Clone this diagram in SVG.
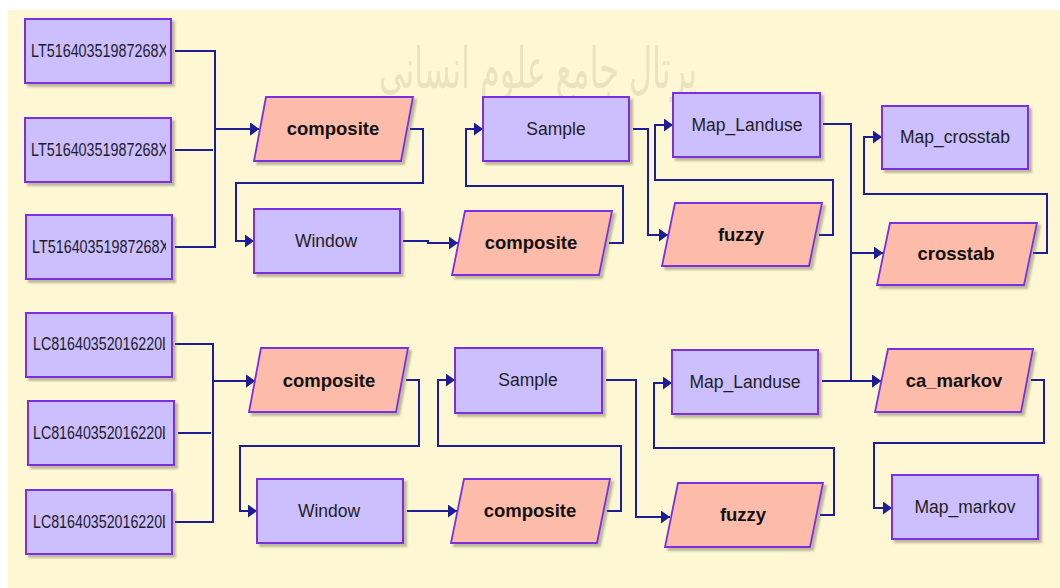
<svg xmlns="http://www.w3.org/2000/svg" width="1060" height="588" viewBox="0 0 1060 588">
  <defs>
    <style>
      .bg { fill: #fdf8d3; }
      .box { fill: #ccbffd; stroke: #7b2fe3; stroke-width: 2; filter: url(#sh); }
      .par { fill: #fdbba9; stroke: #7b2fe3; stroke-width: 1.8; filter: url(#sh); }
      .lbl { font-family: "Liberation Sans", Arial, sans-serif; font-size: 17.5px; fill: #1e1e24; text-anchor: middle; }
      .blbl { font-family: "Liberation Sans", Arial, sans-serif; font-size: 18.5px; font-weight: bold; fill: #111111; text-anchor: middle; }
      .id { font-family: "Liberation Sans", Arial, sans-serif; font-size: 17.5px; fill: #1c1c30; }
      .wm { font-family: "DejaVu Sans", "Noto Sans", sans-serif; font-size: 56px; fill: #d9d2ae; opacity: 0.55; text-anchor: middle; }
      .con path { fill: none; stroke: #1d1d96; stroke-width: 2; }
      .arr { marker-end: url(#ah); }
    </style>
    <filter id="sh" x="-10%" y="-10%" width="125%" height="130%">
      <feDropShadow dx="3" dy="3" stdDeviation="1.2" flood-color="#6f6a55" flood-opacity="0.45"/>
    </filter>
    <marker id="ah" markerUnits="userSpaceOnUse" markerWidth="10" markerHeight="14" refX="9" refY="6.5" orient="auto">
      <path d="M0,0 L9,6.5 L0,13 Z" fill="#1d1d96"/>
    </marker>
    <clipPath id="idclip">
      <rect x="0" y="0" width="166" height="300"/>
    </clipPath>
    <clipPath id="lcclip">
      <rect x="0" y="300" width="165" height="288"/>
    </clipPath>
  </defs>

  <rect x="0" y="0" width="1060" height="588" fill="#ffffff"/>
  <rect class="bg" x="8" y="10" width="1052" height="578"/>

  <text class="wm" x="538" y="88" textLength="318" lengthAdjust="spacingAndGlyphs">پرتال جامع علوم انسانی</text>

  <g class="con">
    <path class="arr" d="M175,51 H215 V129 H259"/>
    <path d="M175,150 H213"/>
    <path class="arr" d="M175,247 H215 V129 H259"/>
    <path class="arr" d="M410,129 H423 V183 H236 V241 H254"/>
    <path class="arr" d="M403,241 H428 V243 H458"/>
    <path class="arr" d="M609,243 H623 V186 H466 V129 H483"/>
    <path class="arr" d="M633,129 H648 V235 H668"/>
    <path class="arr" d="M819,235 H833 V180 H655 V125 H673"/>
    <path class="arr" d="M823,124 H851 V253 H883"/>
    <path class="arr" d="M823,124 H851 V381 H881"/>
    <path class="arr" d="M1033,253 H1047 V194 H864 V137 H882"/>

    <path class="arr" d="M175,344 H213 V381 H255"/>
    <path d="M178,433 H211"/>
    <path class="arr" d="M175,522 H213 V381 H255"/>
    <path class="arr" d="M406,380 H419 V446 H240 V511 H257"/>
    <path class="arr" d="M407,511 H457"/>
    <path class="arr" d="M607,511 H621 V446 H438 V380 H455"/>
    <path class="arr" d="M606,380 H636 V517 H670"/>
    <path class="arr" d="M820,515 H834 V448 H654 V383 H672"/>
    <path class="arr" d="M822,381 H881"/>
    <path class="arr" d="M1031,380 H1044 V443 H874 V508 H892"/>
  </g>

  <g id="lt1"><rect class="box" x="25" y="19" width="146" height="64"/><text class="id" x="31" y="57" textLength="137" lengthAdjust="spacingAndGlyphs" clip-path="url(#idclip)">LT51640351987268X</text></g>
  <g id="lt2"><rect class="box" x="25" y="118" width="146" height="64"/><text class="id" x="31" y="156" textLength="137" lengthAdjust="spacingAndGlyphs" clip-path="url(#idclip)">LT51640351987268X</text></g>
  <g id="lt3"><rect class="box" x="26" y="215" width="146" height="64"/><text class="id" x="32" y="253" textLength="137" lengthAdjust="spacingAndGlyphs" clip-path="url(#idclip)">LT51640351987268X</text></g>

  <g id="lc1"><rect class="box" x="26" y="313" width="146" height="64"/><text class="id" x="33" y="350" textLength="137" lengthAdjust="spacingAndGlyphs" clip-path="url(#lcclip)">LC81640352016220L</text></g>
  <g id="lc2"><rect class="box" x="28" y="401" width="146" height="64"/><text class="id" x="33" y="439" textLength="137" lengthAdjust="spacingAndGlyphs" clip-path="url(#lcclip)">LC81640352016220L</text></g>
  <g id="lc3"><rect class="box" x="26" y="490" width="146" height="64"/><text class="id" x="33" y="528" textLength="137" lengthAdjust="spacingAndGlyphs" clip-path="url(#lcclip)">LC81640352016220L</text></g>

  <g id="composite1"><polygon class="par" points="266,97 413,97 401,161 254,161"/><text class="blbl" x="333" y="135">composite</text></g>
  <g id="window1"><rect class="box" x="254" y="209" width="146" height="64"/><text class="lbl" x="326" y="247">Window</text></g>
  <g id="composite2"><polygon class="par" points="465,211 612,211 599,275 452,275"/><text class="blbl" x="531" y="249">composite</text></g>
  <g id="sample1"><rect class="box" x="483" y="97" width="146" height="64"/><text class="lbl" x="556" y="135">Sample</text></g>
  <g id="maplanduse1"><rect class="box" x="673" y="93" width="147" height="64"/><text class="lbl" x="747" y="131">Map_Landuse</text></g>
  <g id="fuzzy1"><polygon class="par" points="675,203 822,203 809,266 662,266"/><text class="blbl" x="741" y="241">fuzzy</text></g>
  <g id="mapcrosstab"><rect class="box" x="882" y="106" width="146" height="63"/><text class="lbl" x="955" y="143">Map_crosstab</text></g>
  <g id="crosstab"><polygon class="par" points="890,223 1037,223 1024,285 877,285"/><text class="blbl" x="956" y="260">crosstab</text></g>

  <g id="composite3"><polygon class="par" points="261,348 408,348 396,412 249,412"/><text class="blbl" x="329" y="387">composite</text></g>
  <g id="window2"><rect class="box" x="257" y="479" width="146" height="64"/><text class="lbl" x="329" y="517">Window</text></g>
  <g id="composite4"><polygon class="par" points="464,479 610,479 597,543 451,543"/><text class="blbl" x="530" y="517">composite</text></g>
  <g id="sample2"><rect class="box" x="455" y="348" width="147" height="65"/><text class="lbl" x="528" y="386">Sample</text></g>
  <g id="maplanduse2"><rect class="box" x="672" y="350" width="146" height="64"/><text class="lbl" x="745" y="388">Map_Landuse</text></g>
  <g id="fuzzy2"><polygon class="par" points="678,483 823,483 810,547 665,547"/><text class="blbl" x="743" y="521">fuzzy</text></g>
  <g id="camarkov"><polygon class="par" points="888,349 1033,349 1021,412 875,412"/><text class="blbl" x="954" y="387">ca_markov</text></g>
  <g id="mapmarkov"><rect class="box" x="892" y="475" width="146" height="64"/><text class="lbl" x="965" y="513">Map_markov</text></g>
</svg>
